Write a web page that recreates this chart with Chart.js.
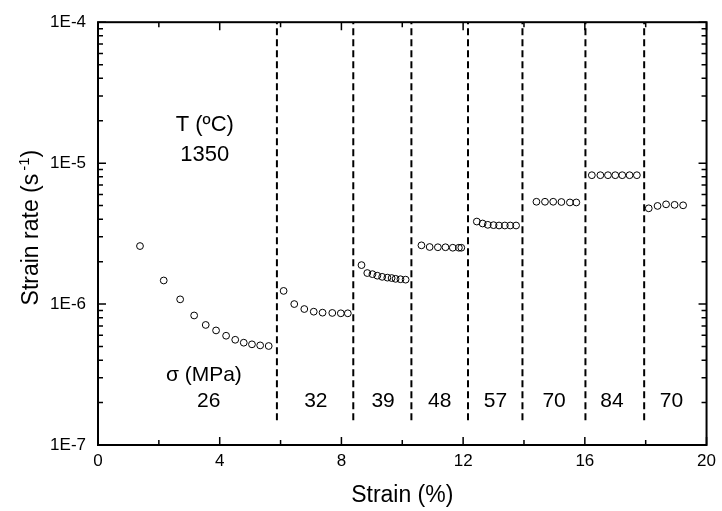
<!DOCTYPE html>
<html><head><meta charset="utf-8">
<script src="https://cdn.jsdelivr.net/npm/chart.js@4/dist/chart.umd.min.js"></script>
<style>html,body{margin:0;padding:0;background:#fff;}</style>
</head><body>
<canvas id="c" width="722" height="511" style="width:722px;height:511px;display:block"></canvas>
<script>
// ---- data ----
const strain26 = [1.38, 2.16, 2.70, 3.16, 3.54, 3.88, 4.21, 4.51, 4.79, 5.06, 5.33, 5.61];
const rate26   = [2.58e-6, 1.47e-6, 1.08e-6, 8.3e-7, 7.11e-7, 6.50e-7, 5.96e-7, 5.58e-7, 5.32e-7, 5.18e-7, 5.09e-7, 5.04e-7];
const strain32 = [6.10, 6.45, 6.78, 7.09, 7.38, 7.70, 7.98, 8.21];
const rate32   = [1.24e-6, 1.00e-6, 9.22e-7, 8.83e-7, 8.69e-7, 8.65e-7, 8.60e-7, 8.60e-7];
const strain39 = [8.66, 8.85, 9.02, 9.18, 9.34, 9.51, 9.65, 9.78, 9.94, 10.11];
const rate39   = [1.89e-6, 1.66e-6, 1.63e-6, 1.59e-6, 1.56e-6, 1.54e-6, 1.53e-6, 1.51e-6, 1.50e-6, 1.49e-6];
const strain48 = [10.63, 10.90, 11.17, 11.42, 11.66, 11.86, 11.94];
const rate48   = [2.61e-6, 2.54e-6, 2.53e-6, 2.53e-6, 2.51e-6, 2.51e-6, 2.51e-6];
const strain57 = [12.45, 12.64, 12.81, 13.00, 13.18, 13.37, 13.55, 13.74];
const rate57   = [3.85e-6, 3.73e-6, 3.65e-6, 3.63e-6, 3.61e-6, 3.61e-6, 3.61e-6, 3.61e-6];
const strain70a = [14.41, 14.69, 14.96, 15.23, 15.51, 15.72];
const rate70a   = [5.32e-6, 5.32e-6, 5.32e-6, 5.30e-6, 5.26e-6, 5.26e-6];
const strain84 = [16.23, 16.51, 16.76, 17.00, 17.23, 17.47, 17.71];
const rate84   = [8.21e-6, 8.21e-6, 8.21e-6, 8.21e-6, 8.21e-6, 8.21e-6, 8.21e-6];
const strain70b = [18.10, 18.39, 18.67, 18.95, 19.23];
const rate70b   = [4.78e-6, 4.97e-6, 5.10e-6, 5.06e-6, 5.02e-6];

const dividerStrain = [5.88, 8.39, 10.30, 12.16, 13.95, 16.02, 17.95];
const dividerRange = [1.5e-7, 1e-4];

const stressLabels = ['26', '32', '39', '48', '57', '70', '84', '70'];
const stressLabelStrain = [3.64, 7.16, 9.37, 11.23, 13.06, 14.99, 16.89, 18.85];
const stressLabelRate = 2.06e-7;

const xMajorTicks = [0, 4, 8, 12, 16, 20];
const xMinorTicks = [2, 6, 10, 14, 18];
const yMajorTicks = [1e-7, 1e-6, 1e-5, 1e-4];
const yTickLabels = ['1E-7', '1E-6', '1E-5', '1E-4'];
const yMinorMultipliers = [2, 3, 4, 5, 6, 7, 8, 9];

const FONT = '"Liberation Sans", Arial, Helvetica, sans-serif';

function pts(xs, ys) { return xs.map((x, i) => ({x: x, y: ys[i]})); }
function scatterDs(xs, ys) {
  return {type: 'scatter', data: pts(xs, ys), pointStyle: 'circle', pointRadius: 3.4,
    pointBorderWidth: 1, pointBorderColor: '#000', pointBackgroundColor: 'rgba(255,255,255,0)',
    showLine: false};
}
const datasets = [
  scatterDs(strain26, rate26), scatterDs(strain32, rate32), scatterDs(strain39, rate39),
  scatterDs(strain48, rate48), scatterDs(strain57, rate57), scatterDs(strain70a, rate70a),
  scatterDs(strain84, rate84), scatterDs(strain70b, rate70b)
];
dividerStrain.forEach(s => {
  datasets.push({type: 'line', data: [{x: s, y: dividerRange[0]}, {x: s, y: dividerRange[1]}],
    borderColor: '#000', borderWidth: 2, borderDash: [7, 4], pointRadius: 0, fill: false});
});

const decor = {
  id: 'decor',
  afterDraw(chart) {
    const ctx = chart.ctx, xs = chart.scales.x, ys = chart.scales.y, a = chart.chartArea;
    ctx.save();
    ctx.strokeStyle = '#000';
    ctx.lineWidth = 1.5;
    const vt = (v, len) => {
      const p = xs.getPixelForValue(v);
      ctx.beginPath(); ctx.moveTo(p, a.bottom); ctx.lineTo(p, a.bottom - len);
      ctx.moveTo(p, a.top); ctx.lineTo(p, a.top + len); ctx.stroke();
    };
    const ht = (v, len) => {
      const p = ys.getPixelForValue(v);
      ctx.beginPath(); ctx.moveTo(a.left, p); ctx.lineTo(a.left + len, p);
      ctx.moveTo(a.right, p); ctx.lineTo(a.right - len, p); ctx.stroke();
    };
    xMajorTicks.forEach(v => vt(v, 8));
    xMinorTicks.forEach(v => vt(v, 5));
    yMajorTicks.forEach(v => ht(v, 8));
    yMajorTicks.slice(0, -1).forEach(d => yMinorMultipliers.forEach(m => ht(d * m, 5)));
    ctx.lineWidth = 2;
    ctx.strokeRect(a.left, a.top, a.right - a.left, a.bottom - a.top);

    ctx.fillStyle = '#000';
    ctx.textAlign = 'center';
    ctx.textBaseline = 'middle';
    ctx.font = '22px ' + FONT;
    const tx = xs.getPixelForValue(3.51);
    ctx.fillText('T (ºC)', tx, ys.getPixelForValue(1.86e-5));
    ctx.fillText('1350', tx, ys.getPixelForValue(1.15e-5));
    ctx.font = '21px ' + FONT;
    ctx.fillText('σ (MPa)', xs.getPixelForValue(3.48), ys.getPixelForValue(3.15e-7));
    stressLabels.forEach((t, i) => {
      ctx.fillText(t, xs.getPixelForValue(stressLabelStrain[i]), ys.getPixelForValue(stressLabelRate));
    });

    // y-axis title with superscript
    const big = '23px ' + FONT, small = '15px ' + FONT;
    const p1 = 'Strain rate (s', p2 = '-1', p3 = ')';
    ctx.font = big; const w1 = ctx.measureText(p1).width, w3 = ctx.measureText(p3).width;
    ctx.font = small; const w2 = ctx.measureText(p2).width;
    const gap = 3;
    const total = w1 + gap + w2 + w3;
    ctx.translate(30, (a.top + a.bottom) / 2 - 6);
    ctx.rotate(-Math.PI / 2);
    ctx.textAlign = 'left';
    ctx.textBaseline = 'alphabetic';
    let x0 = -total / 2;
    const base = 8;
    ctx.font = big; ctx.fillText(p1, x0, base); x0 += w1 + gap;
    ctx.font = small; ctx.fillText(p2, x0, base - 9); x0 += w2;
    ctx.font = big; ctx.fillText(p3, x0, base);
    ctx.restore();
  }
};

new Chart(document.getElementById('c'), {
  data: {datasets: datasets},
  options: {
    responsive: false, animation: false, devicePixelRatio: 1,
    layout: {padding: {top: 18, right: 13, left: 0, bottom: 0}},
    plugins: {legend: {display: false}, tooltip: {enabled: false}},
    scales: {
      x: {
        type: 'linear', min: 0, max: 20,
        afterBuildTicks: s => { s.ticks = xMajorTicks.map(v => ({value: v})); },
        afterFit: s => { s.height = 66; },
        grid: {display: false, drawTicks: false},
        border: {display: false},
        ticks: {color: '#000', font: {size: 17, family: FONT}, padding: 6, maxRotation: 0,
                autoSkip: false, callback: v => String(v)},
        title: {display: true, text: 'Strain (%)', color: '#000',
                font: {size: 23, family: FONT}, padding: {top: 0, bottom: 2}}
      },
      y: {
        type: 'logarithmic', min: 1e-7, max: 1e-4,
        afterBuildTicks: s => { s.ticks = yMajorTicks.map(v => ({value: v})); },
        afterFit: s => { s.width = 98; },
        grid: {display: false, drawTicks: false},
        border: {display: false},
        ticks: {color: '#000', font: {size: 17, family: FONT}, padding: 12, autoSkip: false,
                callback: (v) => { const i = yMajorTicks.findIndex(t => Math.abs(Math.log10(t) - Math.log10(v)) < 1e-6); return i >= 0 ? yTickLabels[i] : ''; }},
        title: {display: false}
      }
    }
  },
  plugins: [decor]
});
</script>
</body></html>
